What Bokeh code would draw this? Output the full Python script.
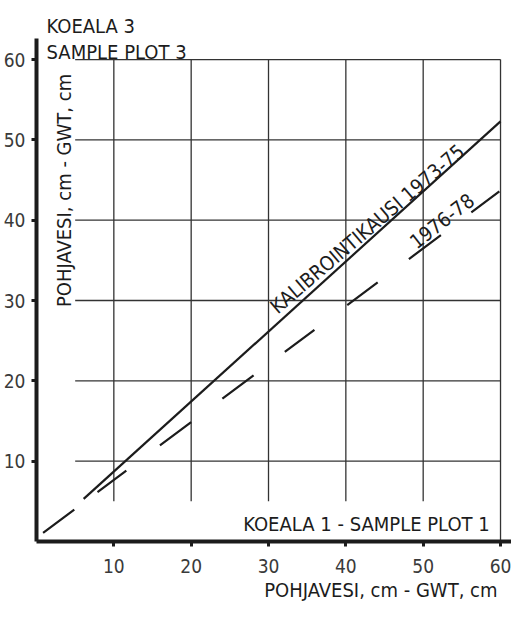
import math
from bokeh.plotting import figure
from bokeh.models import Range1d, FixedTicker, Label, Title
from bokeh.embed import file_html
from bokeh.resources import INLINE

# --- data ---
calib_x = [6.1, 60.0]          # KALIBROINTIKAUSI 1973-75
calib_y = [5.3, 52.3]
later_x = [0.85, 60.0]         # 1976-78
later_y = [1.06, 43.7]
x_ticks = [10, 20, 30, 40, 50, 60]
y_ticks = [10, 20, 30, 40, 50, 60]
grid_v = [10, 20, 30, 40, 50, 60]
grid_h = [10, 20, 30, 40, 50, 60]

INK = "#1c1c1c"
FONT = "DejaVu Sans Condensed"

p = figure(width=511, height=604, output_backend="svg", toolbar_location=None,
           x_range=Range1d(0, 61.42), y_range=Range1d(0, 67.35),
           min_border_left=34, min_border_right=0, min_border_top=0, min_border_bottom=63)
p.outline_line_color = None
p.xgrid.visible = False
p.ygrid.visible = False
p.background_fill_color = "white"
p.border_fill_color = "white"

# partial grid as in the original drawing
p.segment(x0=grid_v, x1=grid_v, y0=[0 if g == 60 else 5 for g in grid_v], y1=[60] * len(grid_v),
          line_color="#333333", line_width=1.3)
p.segment(x0=[5] * len(grid_h), x1=[60] * len(grid_h), y0=grid_h, y1=grid_h,
          line_color="#333333", line_width=1.3)

p.line(calib_x, calib_y, line_color=INK, line_width=2.2)
p.line(later_x, later_y, line_color=INK, line_width=2.2,
       line_dash="39 29 36 42 39 39 39 39 37 41 38 39 40 38 35 100")

for ax in (p.xaxis[0], p.yaxis[0]):
    ax.axis_line_width = 4
    ax.axis_line_color = INK
    ax.major_tick_line_width = 3
    ax.major_tick_line_color = INK
    ax.major_tick_out = 5
    ax.major_tick_in = 0
    ax.minor_tick_out = 0
    ax.minor_tick_in = 0
    ax.major_label_text_font = FONT
    ax.major_label_text_font_size = "19px"
    ax.major_label_text_color = "#3a3a3a"
p.xaxis.ticker = FixedTicker(ticks=x_ticks)
p.yaxis.ticker = FixedTicker(ticks=y_ticks)
p.yaxis.bounds = (0, 62.6)
p.xaxis.major_label_standoff = 12
p.yaxis.major_label_standoff = 6

p.add_layout(Title(text="POHJAVESI, cm - GWT, cm", align="right", offset=14, standoff=0,
                   text_font=FONT, text_font_style="normal", text_font_size="20px",
                   text_color=INK), "below")

def lab(x, y, text, align="left", baseline="alphabetic", angle=0.0, size="20px"):
    p.add_layout(Label(x=x, y=y, text=text, text_align=align, text_baseline=baseline,
                       angle=angle, text_font=FONT, text_font_size=size, text_color=INK))

lab(1.3, 64.2, "KOEALA 3")
lab(1.3, 60.9, "SAMPLE PLOT 3")
lab(3.5, 43.7, "POHJAVESI, cm - GWT, cm", align="center", baseline="middle", angle=math.pi / 2)
lab(58.6, 2.14, "KOEALA 1 - SAMPLE PLOT 1", align="right")
lab(30.6, 28.9, "KALIBROINTIKAUSI 1973-75", angle=math.radians(40.5))
lab(48.6, 37.0, "1976-78", angle=math.radians(38))

open("out.html", "w").write(file_html(p, INLINE))
